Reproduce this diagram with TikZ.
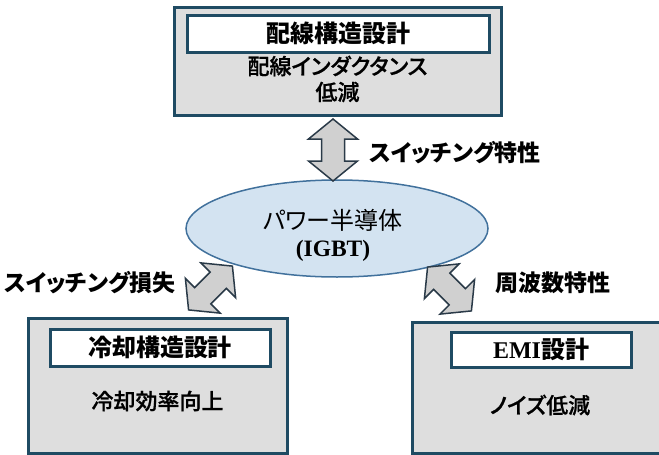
\documentclass[tikz,border=0pt]{standalone}
\usepackage{fontspec}
\usetikzlibrary{shapes.geometric}
\setmainfont{Liberation Serif}
\newfontfamily\jp{Noto Sans CJK JP}[RawFeature=+palt]
\newfontfamily\jpm{Noto Sans CJK JP Medium}[RawFeature=+palt, FakeBold=0.8]
\definecolor{boxfill}{HTML}{DEDEDE}
\definecolor{boxline}{HTML}{1F4B63}
\definecolor{ellfill}{HTML}{D3E3F1}
\definecolor{ellline}{HTML}{41719C}
\definecolor{arrfill}{HTML}{D0D0D0}
\definecolor{arrline}{HTML}{2A3A48}
\tikzset{
  outerbox/.style={draw=boxline, line width=3pt, fill=boxfill, inner sep=0pt},
  titlebox/.style={draw=boxline, line width=3pt, fill=white, inner sep=0pt, font=\jp\bfseries\fontsize{24}{26}\selectfont},
  bodytext/.style={inner sep=0pt, font=\jpm\fontsize{22}{24}\selectfont},
  labeltext/.style={inner sep=0pt, font=\jp\bfseries\fontsize{23}{25}\selectfont},
  blockarrow/.style={draw=arrline, line width=1.5pt, fill=arrfill, line join=miter},
}
\newcommand\dblarrowshape{(-31,0) -- (-11,24.5) -- (-11,11.5) -- (11,11.5) -- (11,24.5) -- (31,0) -- (11,-24.5) -- (11,-11.5) -- (-11,-11.5) -- (-11,-24.5) -- cycle}
\begin{document}
\begin{tikzpicture}[x=1pt, y=-1pt]
\useasboundingbox (0,0) rectangle (659,455);
\clip (0,0) rectangle (659,455);
% top box
\node[outerbox, minimum width=327pt, minimum height=108pt] (topbox) at (337.5,61) {};
\node[titlebox, minimum width=302pt, minimum height=37pt] (toptitle) at (338,33.5) {配線構造設計};
\node[bodytext] (topl1) at (337.5,66) {配線インダクタンス};
\node[bodytext] (topl2) at (337.5,92) {低減};
% left box
\node[outerbox, minimum width=259pt, minimum height=135pt] (leftbox) at (157.5,385.5) {};
\node[titlebox, minimum width=220pt, minimum height=37pt] (lefttitle) at (160,347.5) {冷却構造設計};
\node[bodytext] (leftl1) at (157.5,401) {冷却効率向上};
% right box
\node[outerbox, minimum width=288pt, minimum height=131pt] (rightbox) at (556,387.5) {};
\node[titlebox, minimum width=180pt, minimum height=35pt] (righttitle) at (541,349.5) {{\rmfamily\bfseries EMI}設計};
\node[bodytext] (rightl1) at (540,405) {ノイズ低減};
% ellipse
\node[ellipse, draw=ellline, line width=1.5pt, fill=ellfill, minimum width=302pt, minimum height=97pt, inner sep=0pt] (dev) at (337,228.5) {};
\node[inner sep=0pt, font=\jp\fontsize{24}{26}\selectfont] (devl1) at (333,220) {パワー半導体};
\node[inner sep=0pt, font=\rmfamily\bfseries\fontsize{23.5}{25}\selectfont] (devl2) at (333,251) {(IGBT)};
% arrows
\begin{scope}[shift={(333,150)}, rotate=90]
  \draw[blockarrow] \dblarrowshape;
\end{scope}
\begin{scope}[shift={(210.5,288)}, rotate=45]
  \draw[blockarrow] \dblarrowshape;
\end{scope}
\begin{scope}[shift={(449.5,289)}, rotate=-45]
  \draw[blockarrow] \dblarrowshape;
\end{scope}
% labels
\node[labeltext] (lab1) at (455,153) {スイッチング特性};
\node[labeltext] (lab2) at (90,283) {スイッチング損失};
\node[labeltext] (lab3) at (553,283) {周波数特性};
\end{tikzpicture}
\end{document}
